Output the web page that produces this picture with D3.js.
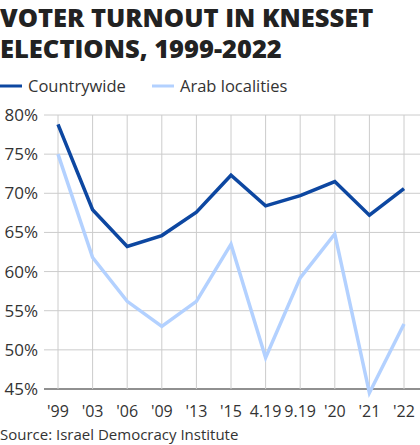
<!DOCTYPE html><html><head><meta charset="utf-8">
<script src="https://cdn.jsdelivr.net/npm/d3@7"></script>
<style>body{margin:0;background:#fff;font-family:"Open Sans",sans-serif}</style></head><body>
<svg id="c" width="420" height="445"></svg>
<script>
const categories=["'99","'03","'06","'09","'13","'15","4.19","9.19","'20","'21","'22"];
const countrywide=[78.8,67.9,63.2,64.6,67.6,72.3,68.4,69.7,71.5,67.2,70.6];
const arab=[75.0,61.8,56.2,53.0,56.2,63.5,49.0,59.2,64.8,44.5,53.3];
const yTicks=[45,50,55,60,65,70,75,80];
const svg=d3.select("#c");
svg.append("text").attr("x",0).attr("y",27).attr("font-size",25.5).attr("font-weight",800).attr("fill","#222").text("VOTER TURNOUT IN KNESSET");
svg.append("text").attr("x",0).attr("y",58).attr("font-size",25.5).attr("font-weight",800).attr("fill","#222").text("ELECTIONS, 1999-2022");
const lg=[["Countrywide","#0d47a1",0],["Arab localities","#b3d1ff",152]];
lg.forEach(([t,c,x])=>{svg.append("line").attr("x1",x).attr("x2",x+22).attr("y1",86).attr("y2",86).attr("stroke",c).attr("stroke-width",3);
svg.append("text").attr("x",x+28).attr("y",92).attr("font-size",16.5).attr("fill","#333").text(t);});
const x=d3.scalePoint().domain(categories).range([58,404]);
const y=d3.scaleLinear().domain([45,80]).range([389,115]);
const g=svg.append("g");
g.selectAll(".h").data(yTicks).join("line").attr("x1",44).attr("x2",420).attr("y1",d=>y(d)).attr("y2",d=>y(d)).attr("stroke",d=>d==45?"#222":"#ccc").attr("stroke-width",d=>d==45?1.2:1);
g.selectAll(".v").data(categories).join("line").attr("x1",d=>x(d)).attr("x2",d=>x(d)).attr("y1",115).attr("y2",389).attr("stroke","#ccc");
g.selectAll(".yl").data(yTicks).join("text").attr("x",38).attr("y",d=>y(d)+6).attr("text-anchor","end").attr("font-size",17).attr("fill","#333").text(d=>d+"%");
g.selectAll(".xl").data(categories).join("text").attr("x",d=>x(d)).attr("y",417).attr("text-anchor","middle").attr("font-size",16).attr("fill","#333").text(d=>d);
const line=d3.line().x((d,i)=>x(categories[i])).y(d=>y(d));
g.append("path").attr("d",line(arab)).attr("fill","none").attr("stroke","#b3d1ff").attr("stroke-width",3.5);
g.append("path").attr("d",line(countrywide)).attr("fill","none").attr("stroke","#0d47a1").attr("stroke-width",3.5);
svg.append("text").attr("x",0).attr("y",440).attr("font-size",15).attr("fill","#333").text("Source: Israel Democracy Institute");
</script></body></html>
